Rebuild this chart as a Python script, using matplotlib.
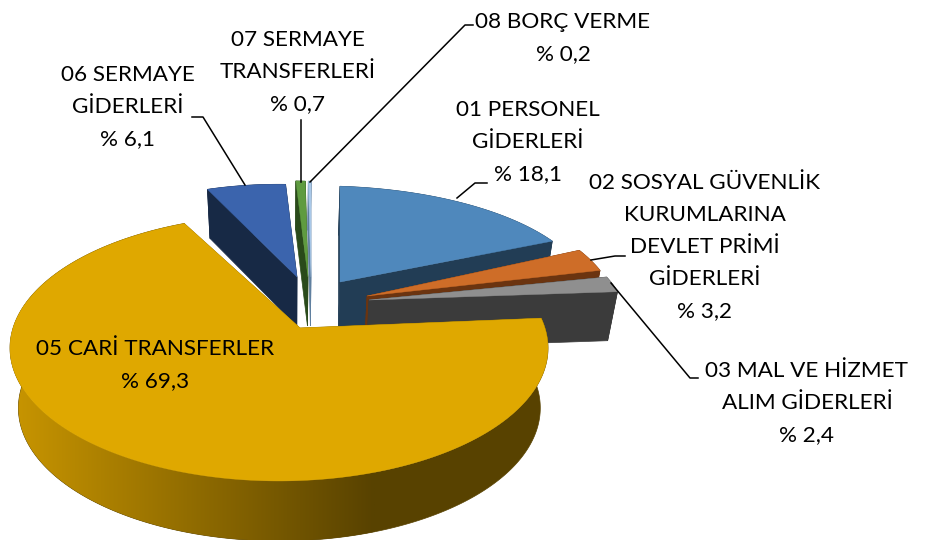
#!/usr/bin/env python3

import numpy as np
import matplotlib
matplotlib.use('Agg')
import matplotlib.pyplot as plt
from matplotlib.colors import LinearSegmentedColormap
from matplotlib.patches import Polygon

names = ['01 PERSONEL\nGİDERLERİ',
         '02 SOSYAL GÜVENLİK\nKURUMLARINA\nDEVLET PRİMİ\nGİDERLERİ',
         '03 MAL VE HİZMET\nALIM GİDERLERİ',
         '05 CARİ TRANSFERLER',
         '06 SERMAYE\nGİDERLERİ',
         '07 SERMAYE\nTRANSFERLERİ',
         '08 BORÇ VERME']
values = [18.1, 3.2, 2.4, 69.3, 6.1, 0.7, 0.2]

top_colors = ['#4F88BC', '#CE6D28', '#8F8F8F', '#DFA800', '#3B64AD', '#5F9B40', '#A9C8E8']
side_colors = ['#223D55', '#6B3410', '#3B3B3B', '#8A6A00', '#172945', '#2A4A1A', '#5F7F9F']

# where each exploded slice has its tip, in pixels, and how far it reaches
tips = [(340, 282), (367, 296), (369, 300), (300, 328), (297, 277), (308, 277), (311, 277)]
scale_x = [1.01, 1.01, 1.03, 1.0, 0.88, 0.94, 0.94]
scale_y = [0.85, 0.95, 0.85, 1.0, 0.82, 0.85, 0.85]
depths = [49, 49, 49, 60, 49, 49, 49]
# the view stretches the big slice's far edge a bit, in degrees
end_nudge = [0, 0, 0, -3.5, 0, 0, 0]
draw_order = [4, 5, 6, 0, 1, 2, 3]

label_pos = [(528, 142), (705, 247), (807, 403), (155, 365), (128, 107), (298, 72), (563, 38)]
leaders = [[(457, 198), (475, 183), (487, 183)],
           [(591, 260), (615, 256), (625, 256)],
           [(611, 283), (690, 378), (698, 378)],
           [(245, 185), (203, 117), (192, 117)],
           [(301, 182), (301, 120)],
           [(310, 182), (465, 25), (473, 25)]]

radius_x = 269
radius_y = 133
off_u, off_v = 0.078, 0.15  # tip sits off the middle of the ellipse
shrink = 0.03
x_mid = 290


def rim(i, t):
    du, dv = np.sin(t), np.cos(t)
    d = off_u * du + off_v * dv
    r = -d + np.sqrt(d * d + 1 - off_u ** 2 - off_v ** 2)
    x = tips[i][0] + radius_x * scale_x[i] * r * du
    y = tips[i][1] - radius_y * scale_y[i] * r * dv
    return x, y


def drop(i, x, y):
    return x + (x_mid - x) * shrink, y + depths[i]


fig = plt.figure(figsize=(9.27, 5.40), dpi=100)
ax = fig.add_axes([0, 0, 1, 1])

angles = np.cumsum([0] + values) / sum(values) * 2 * np.pi
gold_wall = LinearSegmentedColormap.from_list('gold_wall', ['#CC9800', '#584200'])

for z, i in enumerate(draw_order):
    t = np.linspace(angles[i], angles[i + 1] + np.radians(end_nudge[i]), max(6, int(values[i] * 8)))
    x, y = rim(i, t)
    xb, yb = drop(i, x, y)
    tx, ty = tips[i]
    txb, tyb = drop(i, tx, ty)
    # the two cut faces
    for k in (0, -1):
        ax.fill([tx, x[k], xb[k], txb], [ty, y[k], yb[k], tyb], color=side_colors[i],
                lw=0.5, zorder=z)
    # outer wall
    wall_x = np.r_[x, xb[::-1]]
    wall_y = np.r_[y, yb[::-1]]
    if i == 3:
        ax.fill(wall_x, wall_y, color='#584200', lw=0.5, zorder=z + 0.1)
        shade = ax.imshow(np.linspace(0, 1, 256).reshape(1, -1), cmap=gold_wall,
                          extent=(0, 375, 560, 300), aspect='auto', zorder=z + 0.2)
        shade.set_clip_path(Polygon(np.c_[wall_x, wall_y], transform=ax.transData))
    else:
        ax.fill(wall_x, wall_y, color=side_colors[i], lw=0.5, zorder=z + 0.1)
    ax.fill(np.r_[tx, x], np.r_[ty, y], color=top_colors[i], lw=0.3, zorder=z + 0.5)

for line in leaders:
    ax.plot([p[0] for p in line], [p[1] for p in line], color='black', lw=1.1, zorder=20)

for name, val, pos in zip(names, values, label_pos):
    label = name + '\n% ' + str(val).replace('.', ',')
    ax.text(pos[0], pos[1], label, ha='center', va='center', family='Lato',
            fontsize=16.2, color='black', linespacing=1.74, zorder=21)

ax.set_xlim(0, 927)
ax.set_ylim(540, 0)
ax.axis('off')

plt.savefig('out.png', dpi=100)
